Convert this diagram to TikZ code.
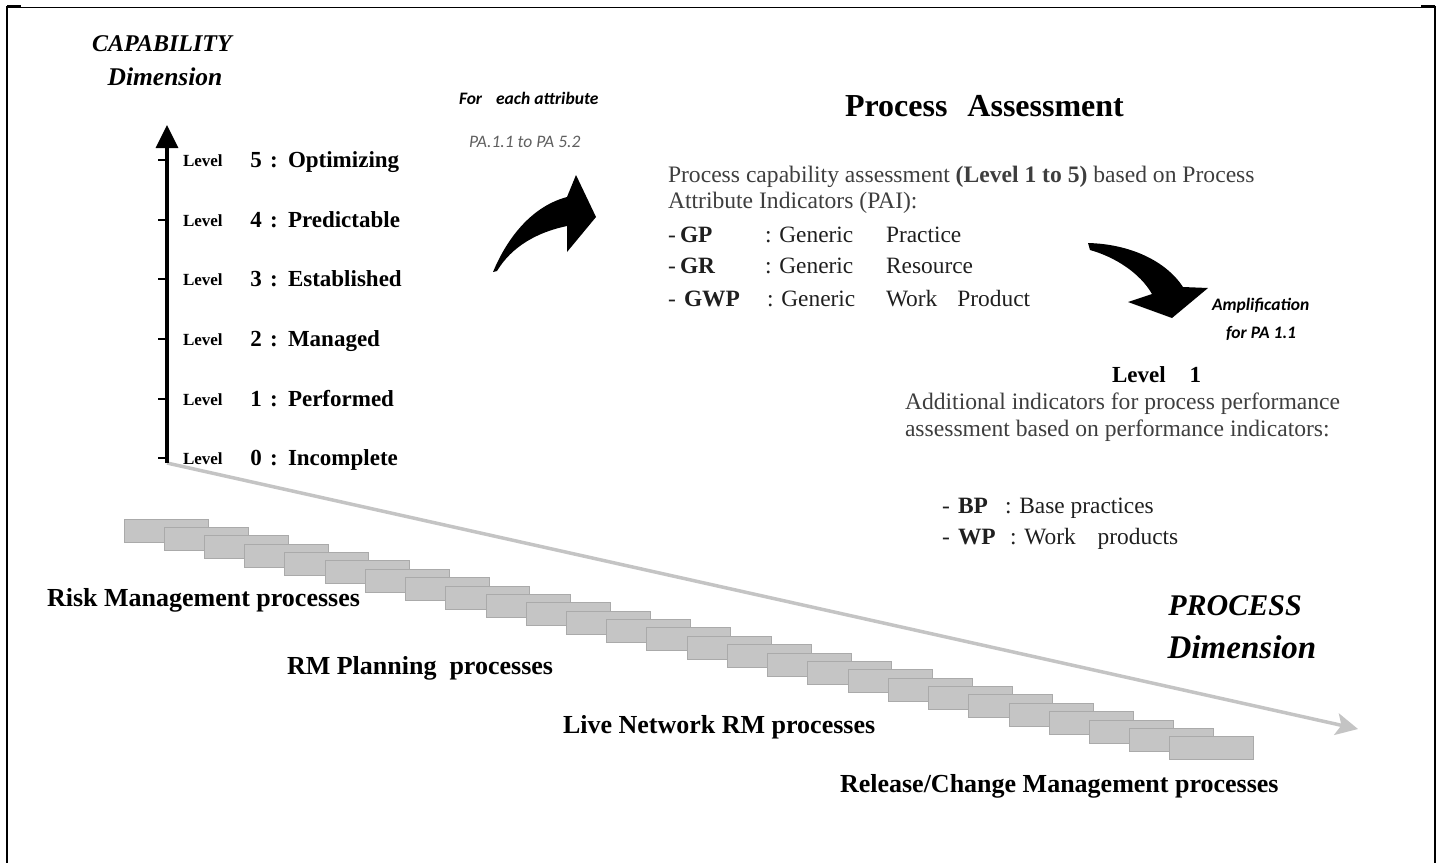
\documentclass[tikz,border=0pt]{standalone}
\usepackage{fontspec}
\setmainfont{Liberation Serif}
\newfontfamily\notefont{Carlito}
\usetikzlibrary{positioning, arrows.meta}
\definecolor{axisGrey}{RGB}{196,196,196}
\definecolor{stepFill}{RGB}{197,197,197}
\definecolor{stepLine}{RGB}{170,170,170}
\definecolor{textGrey}{RGB}{62,62,62}
\definecolor{noteGrey}{RGB}{95,95,95}

\begin{document}
\begin{tikzpicture}[
  x=1pt, y=-1pt,
  every node/.style={inner sep=0pt, outer sep=0pt},
  frame/.style={draw=black, line width=2.5pt},
  dimtitle/.style={font=\fontsize{24}{28}\selectfont\bfseries\itshape},
  dimbig/.style={font=\fontsize{30}{34}\selectfont\bfseries\itshape},
  lvlword/.style={anchor=base west, font=\fontsize{17}{19}\selectfont\bfseries},
  lvlnum/.style={anchor=base, font=\fontsize{23}{26}\selectfont\bfseries},
  lvlname/.style={anchor=base west, font=\fontsize{23}{26}\selectfont\bfseries},
  proc/.style={anchor=base west, font=\fontsize{26}{29}\selectfont\bfseries},
  stepbox/.style={draw=stepLine, fill=stepFill, line width=1pt,
    minimum width=84pt, minimum height=23pt, anchor=north west},
  body/.style={anchor=base west, font=\fontsize{23.6}{27}\selectfont, text=textGrey},
  item/.style={anchor=base west, font=\fontsize{23.4}{27}\selectfont, text=black!88},
  itemkey/.style={item, font=\fontsize{23.4}{27}\selectfont\bfseries},
  note/.style={anchor=base west, font=\notefont\fontsize{17.5}{20}\selectfont\bfseries\itshape},
  bigarrow/.style={fill=black}
]
\useasboundingbox (0,0) rectangle (1443,863);

% frame, open at the bottom
\draw[line width=1.5pt] (7,7.5) -- (1435,7.5);
\draw[frame] (7,6.5) -- (21,6.5);
\draw[frame] (1421,6.5) -- (1435,6.5);
\draw[frame] (7,5.5) -- (7,863);
\draw[frame] (1435,5.5) -- (1435,863);

\coordinate (origin) at (167,463);
\coordinate (captop) at (167,125);
\coordinate (procend) at (1358,729);

% process dimension
\draw[axisGrey, line width=3.5pt, -{Stealth[width=22pt,length=22pt,inset=5pt]}] (origin) -- (procend);
\foreach \i in {0,...,26}
  \node[stepbox] (step\i) at ({124+40.23*\i},{519+8.38*\i}) {};

\node[proc] (riskproc) at (47,606) {Risk Management processes};
\node[proc] (planproc) at (287,674) {RM Planning\ \ processes};
\node[proc] (liveproc) at (563,733) {Live Network RM processes};
\node[proc] (relproc) at (840,792) {Release/Change Management processes};
\node[dimbig] (procword) at (1235,606) {PROCESS};
\node[dimbig, font=\fontsize{33}{36}\selectfont\bfseries\itshape] (procdim) at (1242,647) {Dimension};

% capability dimension
\draw[line width=3.5pt, -{Triangle[width=22pt,length=23pt]}] (origin) -- (captop);
\node[dimtitle] (capword) at (162,44) {CAPABILITY};
\node[dimtitle, font=\fontsize{25.5}{28}\selectfont\bfseries\itshape] (capdim) at (165,77) {Dimension};
\foreach \n/\lname/\yy in {5/Optimizing/160, 4/Predictable/220, 3/Established/279,
    2/Managed/339, 1/Performed/399, 0/Incomplete/458}{
  \draw[line width=1.5pt] (158,\yy) -- (167,\yy);
  \node[lvlword] (lw\n) at (183,\yy+6) {Level};
  \node[lvlnum] (ln\n) at (256,\yy+7) {\n};
  \node[lvlnum] (lc\n) at (274,\yy+7) {:};
  \node[lvlname] (lt\n) at (288,\yy+7) {\lname};
}

% attribute arrow
\node[note] (foreach) at (459,104) {For\hspace{14pt}each attribute};
\node[note, font=\notefont\fontsize{17.5}{20}\selectfont\itshape, text=noteGrey] (parange) at (469,147) {PA.1.1 to PA 5.2};
\fill[bigarrow] (493,272) .. controls (508,236) and (533,206) .. (567,197)
  -- (576,175) -- (596,217) -- (567,252) -- (567,226)
  .. controls (538,232) and (512,246) .. (497,271) -- cycle;

% assessment block
\node[anchor=base west, font=\fontsize{32}{36}\selectfont\bfseries] (pahead) at (845,116) {Process\hspace{20pt}Assessment};
\node[body] (pcline1) at (668,182) {Process capability assessment \textbf{(Level 1 to 5)} based on Process};
\node[body] (pcline2) at (668,208) {Attribute Indicators (PAI):};
\foreach \key/\kx/\cx/\rest/\yy in {GP/680/765/Practice/242, GR/680/765/Resource/273,
    GWP/684/767/{Work\hspace{20pt}Product}/306}{
  \node[item] (dash\key) at (668,\yy) {-};
  \node[itemkey] (key\key) at (\kx,\yy) {\key};
  \node[item] (gen\key) at (\cx,\yy) {: Generic};
  \node[item] (word\key) at (886,\yy) {\rest};
}

% amplification arrow
\fill[bigarrow] (1088,243) .. controls (1130,244) and (1166,261) .. (1183,287)
  -- (1208,288) -- (1172,318) -- (1128,302) -- (1152,294)
  .. controls (1140,273) and (1115,257) .. (1090,250) -- cycle;
\node[note] (ampl) at (1212,310) {Amplification};
\node[note] (amplpa) at (1226,338) {for PA 1.1};

\node[anchor=base west, font=\fontsize{23}{27}\selectfont\bfseries] (lvone) at (1112,382) {Level\hspace{24pt}1};
\node[body] (addl1) at (905,409) {Additional indicators for process performance};
\node[body] (addl2) at (905,436) {assessment based on performance indicators:};
\node[item] (bpdash) at (942,513) {-};
\node[itemkey] (bpkey) at (958,513) {BP};
\node[item] (bptext) at (1005,513) {: Base practices};
\node[item] (wpdash) at (942,544) {-};
\node[itemkey] (wpkey) at (958,544) {WP};
\node[item] (wptext) at (1010,544) {: Work\hspace{22pt}products};
\end{tikzpicture}
\end{document}
